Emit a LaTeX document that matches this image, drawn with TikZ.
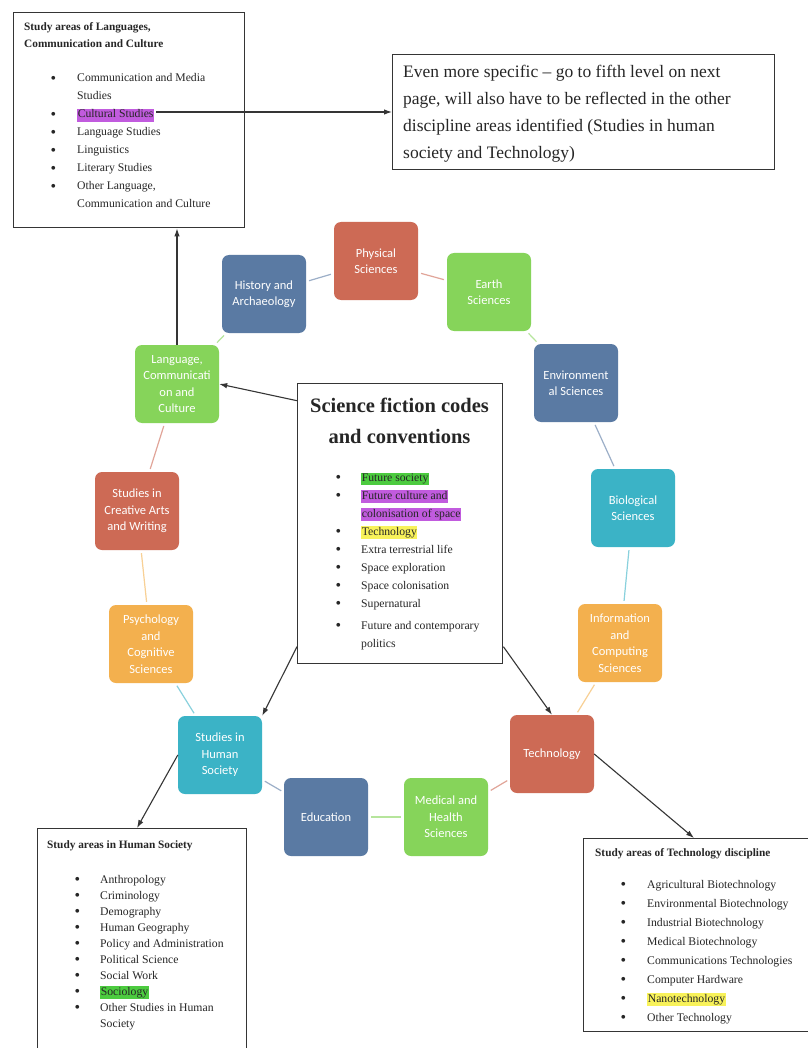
\documentclass[tikz,border=0pt]{standalone}
\usepackage{fontspec}
\setmainfont{Liberation Serif}
\newfontfamily\calibri{Carlito}
\usetikzlibrary{arrows.meta,positioning}

\definecolor{ringred}{HTML}{CD6A55}
\definecolor{ringblue}{HTML}{5A7AA3}
\definecolor{ringgreen}{HTML}{86D45A}
\definecolor{ringteal}{HTML}{3BB3C6}
\definecolor{ringorange}{HTML}{F3B04E}
\definecolor{boxline}{HTML}{353535}
\definecolor{hlgreen}{HTML}{4CCB3F}
\definecolor{hlpurple}{HTML}{C15BDE}
\definecolor{hlyellow}{HTML}{F8F25A}

\newlength\bgap
\newcommand\itm[1]{\makebox[\bgap][l]{\hspace*{-0.6pt}\raisebox{-1.9pt}{\scalebox{1.35}{\textbullet}}}#1}
\newcommand\cnt[1]{\hspace*{\bgap}#1}
\newcommand\hlt[2]{{\setlength\fboxsep{0.6pt}\colorbox{#1}{\rule[-3.2pt]{0pt}{11pt}#2}}}

\tikzset{
  ringnode/.style={rounded corners=7pt, minimum width=84pt, minimum height=78pt, inner sep=2pt,
    align=center, text=white, font=\calibri\fontsize{12.5}{16.5}\selectfont},
  listbox/.style={draw=boxline, line width=1.4pt, inner sep=0pt, anchor=north west},
  boxtext/.style={anchor=base west, inner sep=0pt, text=black!85},
  link/.style={line width=1.2pt, shorten >=3pt, shorten <=3pt},
  arr/.style={-{Latex[length=8pt,width=5.5pt]}, line width=1.1pt, draw=boxline}
}

\begin{document}
\begin{tikzpicture}[x=1pt,y=-1pt]
    \path[use as bounding box, fill=white] (0,0) rectangle (807,1048);

    \node[listbox, minimum width=231pt, minimum height=215pt] (lcbox) at (13,12) {};
    \node[boxtext, font=\bfseries\fontsize{11.3}{17}\selectfont] (lctitle) at (24,31)
        {\begin{tabular}[t]{@{}l@{}}Study areas of Languages,\\ Communication and Culture\end{tabular}};
    \node[boxtext, font=\fontsize{11.7}{18}\selectfont] (lclist) at (51,82)
        {\setlength\bgap{26pt}\begin{tabular}[t]{@{}l@{}}
        \itm{Communication and Media}\\ \cnt{Studies}\\ \itm{\hlt{hlpurple}{Cultural Studies}}\\
        \itm{Language Studies}\\ \itm{Linguistics}\\ \itm{Literary Studies}\\
        \itm{Other Language,}\\ \cnt{Communication and Culture}\end{tabular}};

    \node[listbox, minimum width=382pt, minimum height=115pt] (note) at (392,54) {};
    \node[boxtext, font=\fontsize{17.5}{26.7}\selectfont] (notetext) at (403,78)
        {\begin{tabular}[t]{@{}l@{}}Even more specific – go to fifth level on next\\
        page, will also have to be reflected in the other\\ discipline areas identified (Studies in human\\
        society and Technology)\end{tabular}};

    \node[listbox, minimum width=205pt, minimum height=280pt] (scf) at (297,383) {};
    \node[anchor=base, inner sep=0pt, text=black!85, font=\bfseries\fontsize{20.5}{31}\selectfont] (scftitle) at (399.5,412)
        {\begin{tabular}[t]{@{}c@{}}Science fiction codes\\ and conventions\end{tabular}};
    \node[boxtext, font=\fontsize{11.7}{18}\selectfont] (scflist) at (336,481)
        {\setlength\bgap{25pt}\begin{tabular}[t]{@{}l@{}}
        \itm{\hlt{hlgreen}{Future society}}\\ \itm{\hlt{hlpurple}{Future culture and}}\\
        \cnt{\hlt{hlpurple}{colonisation of space}}\\ \itm{\hlt{hlyellow}{Technology}}\\
        \itm{Extra terrestrial life}\\ \itm{Space exploration}\\ \itm{Space colonisation}\\
        \itm{Supernatural}\\[4pt] \itm{Future and contemporary}\\ \cnt{politics}\end{tabular}};

    \node[listbox, minimum width=209pt, minimum height=240pt] (hsbox) at (37,828) {};
    \node[boxtext, font=\bfseries\fontsize{11.3}{17}\selectfont] (hstitle) at (47,848) {Study areas in Human Society};
    \node[boxtext, font=\fontsize{11.7}{16}\selectfont] (hslist) at (75,883)
        {\setlength\bgap{25pt}\begin{tabular}[t]{@{}l@{}}
        \itm{Anthropology}\\ \itm{Criminology}\\ \itm{Demography}\\ \itm{Human Geography}\\
        \itm{Policy and Administration}\\ \itm{Political Science}\\ \itm{Social Work}\\
        \itm{\hlt{hlgreen}{Sociology}}\\ \itm{Other Studies in Human}\\ \cnt{Society}\end{tabular}};

    \node[listbox, minimum width=260pt, minimum height=193pt] (tbox) at (583,838) {};
    \node[boxtext, font=\bfseries\fontsize{11.3}{17}\selectfont] (ttitle) at (595,856) {Study areas of Technology discipline};
    \node[boxtext, font=\fontsize{11.7}{19}\selectfont] (tlist) at (621,888)
        {\setlength\bgap{26pt}\begin{tabular}[t]{@{}l@{}}
        \itm{Agricultural Biotechnology}\\ \itm{Environmental Biotechnology}\\ \itm{Industrial Biotechnology}\\
        \itm{Medical Biotechnology}\\ \itm{Communications Technologies}\\ \itm{Computer Hardware}\\
        \itm{\hlt{hlyellow}{Nanotechnology}}\\ \itm{Other Technology}\end{tabular}};

    \node[ringnode, fill=ringred] (phys) at (376,261) {Physical\\ Sciences};
    \node[ringnode, fill=ringgreen] (earth) at (489,292) {Earth\\ Sciences};
    \node[ringnode, fill=ringblue] (env) at (576,383) {Environment\\ al Sciences};
    \node[ringnode, fill=ringteal] (bio) at (633,508) {Biological\\ Sciences};
    \node[ringnode, fill=ringorange] (info) at (620,643) {Information\\ and\\ Computing\\ Sciences};
    \node[ringnode, fill=ringred] (tech) at (552,754) {Technology};
    \node[ringnode, fill=ringgreen] (med) at (446,817) {Medical and\\ Health\\ Sciences};
    \node[ringnode, fill=ringblue] (edu) at (326,817) {Education};
    \node[ringnode, fill=ringteal] (shs) at (220,755) {Studies in\\ Human\\ Society};
    \node[ringnode, fill=ringorange] (psych) at (151,644) {Psychology\\ and\\ Cognitive\\ Sciences};
    \node[ringnode, fill=ringred] (creat) at (137,511) {Studies in\\ Creative Arts\\ and Writing};
    \node[ringnode, fill=ringgreen] (lang) at (177,384) {Language,\\ Communicati\\ on and\\ Culture};
    \node[ringnode, fill=ringblue] (hist) at (264,294) {History and\\ Archaeology};

    \draw[link, ringred!60] (phys) -- (earth);
    \draw[link, ringgreen!60] (earth) -- (env);
    \draw[link, ringblue!60] (env) -- (bio);
    \draw[link, ringteal!60] (bio) -- (info);
    \draw[link, ringorange!60] (info) -- (tech);
    \draw[link, ringred!60] (tech) -- (med);
    \draw[link, ringgreen!60] (med) -- (edu);
    \draw[link, ringblue!60] (edu) -- (shs);
    \draw[link, ringteal!60] (shs) -- (psych);
    \draw[link, ringorange!60] (psych) -- (creat);
    \draw[link, ringred!60] (creat) -- (lang);
    \draw[link, ringgreen!60] (lang) -- (hist);
    \draw[link, ringblue!60] (hist) -- (phys);

    \coordinate (cult) at (156,112);
    \draw[arr] (cult) -- (cult -| note.west);
    \draw[arr] (lang.north) -- (lang.north |- lcbox.south);
    \draw[arr] (scf.130) -- (lang.east);
    \draw[arr] (scf.230) -- (shs.north east);
    \draw[arr] (scf.310) -- (tech.north);
    \draw[arr] (shs.west) -- ([xshift=100pt]hsbox.north west);
    \draw[arr] (tech.east) -- ([xshift=111pt]tbox.north west);
\end{tikzpicture}
\end{document}
